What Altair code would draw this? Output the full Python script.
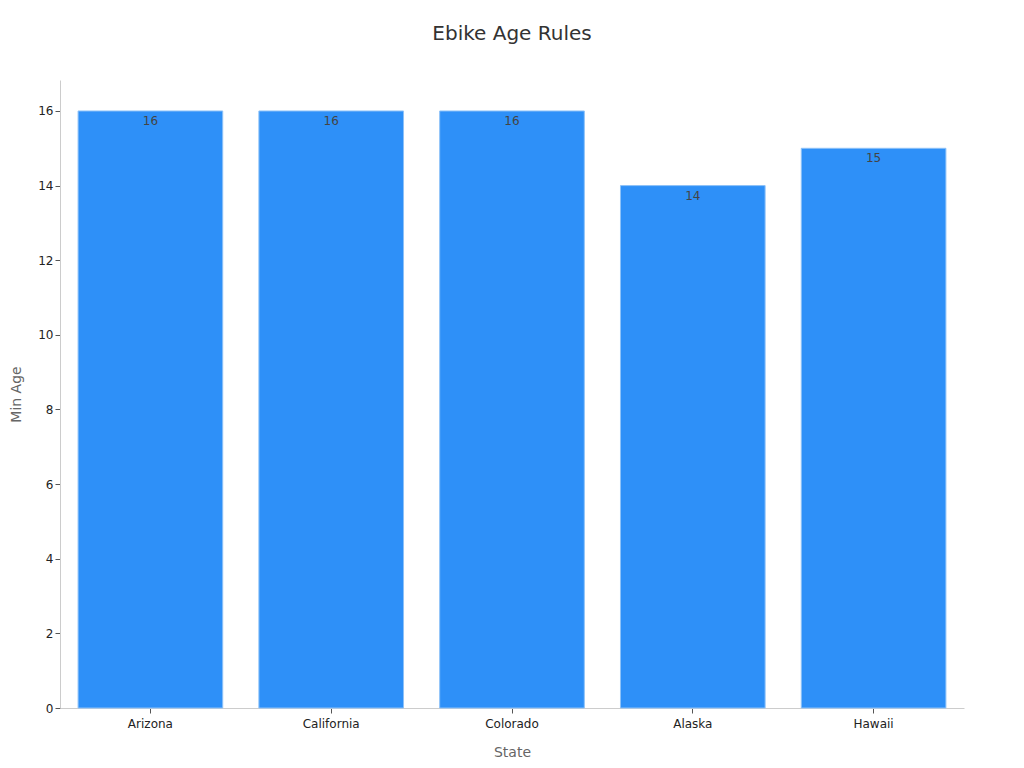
import altair as alt
import pandas as pd

states = ["Arizona", "California", "Colorado", "Alaska", "Hawaii"]
min_age = [16, 16, 16, 14, 15]

df = pd.DataFrame({"State": states, "Min Age": min_age})

FONT = "DejaVu Sans"

base = alt.Chart(df).encode(
    x=alt.X("State:N", sort=states,
            scale=alt.Scale(paddingInner=0.2, paddingOuter=0.1),
            axis=alt.Axis(labelAngle=0, title="State", labelFontSize=12,
                          labelColor="#222", titleFontSize=14, titleColor="#666",
                          titleFontWeight="normal", domainColor="#ccc",
                          tickColor="#555", titlePadding=16, labelPadding=5)),
    y=alt.Y("Min Age:Q", scale=alt.Scale(domain=[0, 16.83], nice=False),
            axis=alt.Axis(values=list(range(0, 17, 2)), title="Min Age",
                          labelFontSize=12, labelColor="#222", titleFontSize=14,
                          titleColor="#666", titleFontWeight="normal",
                          domainColor="#ccc", tickColor="#555", grid=False,
                          titlePadding=14)),
)

bars = base.mark_bar(color="#2E90F8", stroke="#8EC2F8", strokeWidth=1)
labels = base.mark_text(baseline="top", dy=5, fontSize=12, color="#444", font=FONT).encode(
    text="Min Age:Q")

chart = (bars + labels).properties(
    width=904, height=628,
    title=alt.TitleParams("Ebike Age Rules", fontSize=20, font=FONT,
                          fontWeight="normal", color="#333", offset=36),
    autosize=alt.AutoSizeParams(type="none"),
    padding={"left": 52, "top": 72, "right": 10, "bottom": 50},
).configure(font=FONT).configure_view(stroke=None)

chart.save("out.html", embed_options={"renderer": "svg", "actions": False})
